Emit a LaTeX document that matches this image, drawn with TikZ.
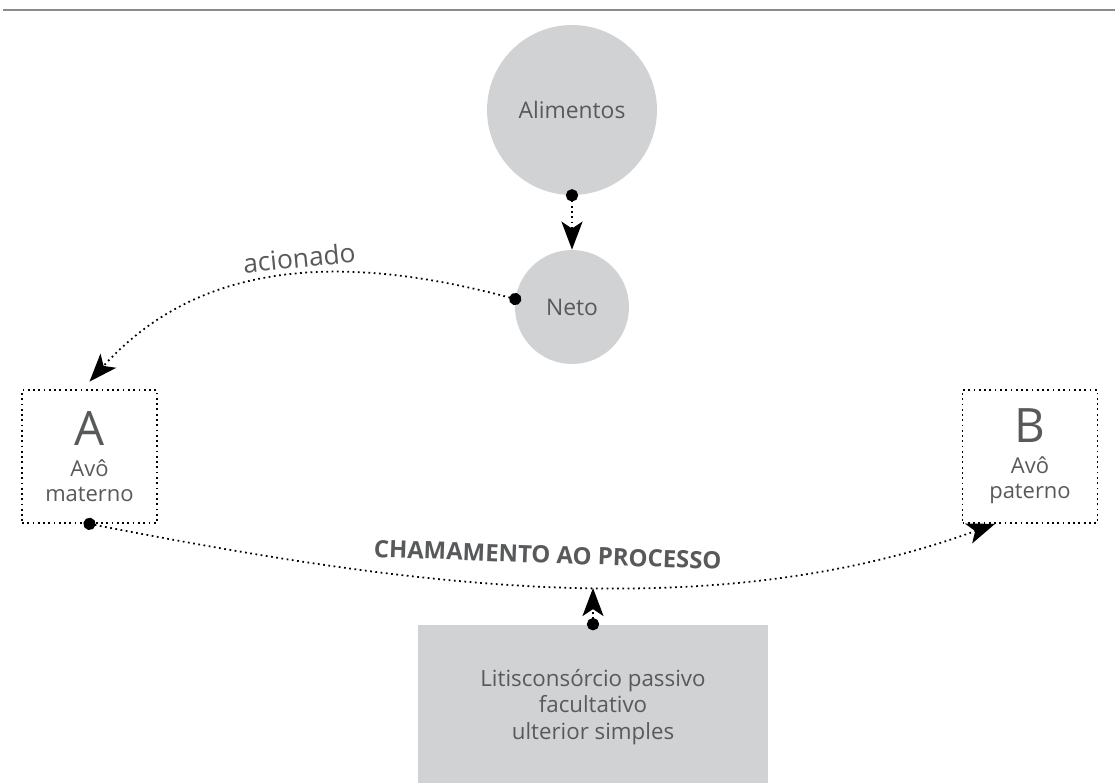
\documentclass[tikz,border=0pt]{standalone}
\usepackage{fontspec}
\setmainfont{Open Sans}
\usetikzlibrary{arrows.meta,positioning}
\definecolor{fundo}{HTML}{D1D2D4}
\definecolor{texto}{HTML}{58595B}
\tikzset{
  bola/.style={circle,fill=fundo,text=texto,inner sep=0pt,font=\fontsize{13}{15}\selectfont},
  caixa/.style={draw,dotted,line width=1pt,text=texto,minimum width=2.7cm,minimum height=2.66cm,
    align=center,inner sep=0pt,font=\fontsize{12.5}{14.5}\selectfont},
  seta/.style={dotted,line width=1pt,{Circle[length=7pt]}-{Stealth[length=16pt,width=12pt,inset=4pt]},shorten <=-3.5pt},
  rotulo/.style={text=texto,font=\fontsize{15}{17}\selectfont}
}
\begin{document}
\begin{tikzpicture}[x=0.02cm,y=-0.02cm]
  \useasboundingbox (0,0) rectangle (1115,782);
  \draw[color=gray!90,line width=1.2pt] (3,10) -- (1115,10);
  % pessoas e pedido
  \node[bola,minimum size=3.4cm] (alim) at (572,110) {Alimentos};
  \node[bola,minimum size=2.28cm] (neto) at (572,307) {Neto};
  \node[caixa] (A) at (89.5,456.5) {{\fontsize{27}{27}\selectfont A}\\[3pt] Avô\\ materno};
  \node[caixa] (B) at (1030,456.5) {{\fontsize{27}{27}\selectfont B}\\[3pt] Avô\\ paterno};
  \node[fill=fundo,text=texto,minimum width=7cm,minimum height=3.3cm,align=center,
    font=\fontsize{12.7}{15}\selectfont] (lit) at (593,707)
    {Litisconsórcio passivo\\ facultativo\\ ulterior simples};
  \coordinate (meet) at (593,588);
  % ligacoes
  \draw[seta] (alim.south) -- (neto.north);
  \draw[seta] (neto.172) to[out=165,in=48]
    node[pos=0.46,sloped,above,rotulo] {acionado} ([yshift=0.15cm]A.north);
  \draw[seta] (A.south) to[out=-11,in=200,looseness=0.88]
    node[pos=0.5,above=9pt,rotate=-2,rotulo,font=\fontsize{13.6}{15}\selectfont\bfseries] {CHAMAMENTO AO PROCESSO}
    ([xshift=-0.7cm]B.south);
  \draw[seta] (lit.north) -- (meet);
\end{tikzpicture}
\end{document}
